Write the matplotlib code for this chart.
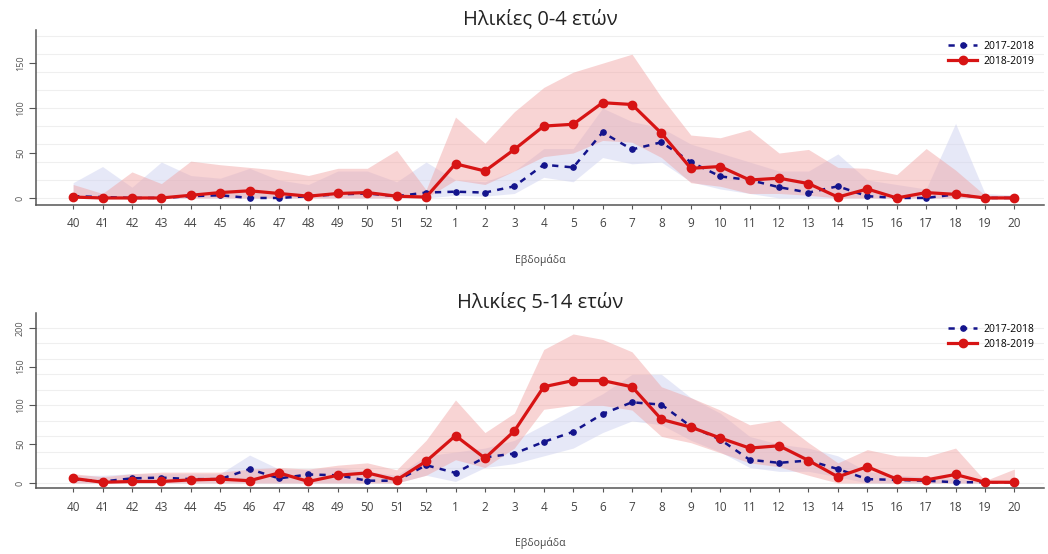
import matplotlib
matplotlib.use('Agg')
import matplotlib.pyplot as plt
import numpy as np

plt.rcParams['font.family'] = ['Open Sans', 'DejaVu Sans']

weeks = [str(w) for w in range(40, 53)] + [str(w) for w in range(1, 21)]

# Ηλικίες 0-4 ετών
top_1718 = [2, 1, 0, 0, 2, 3, 0, 0, 2, 4, 5, 2, 6,
            7, 6, 13, 37, 34, 73, 54, 62, 40, 24, 20, 12, 6, 13, 2, 0, 0, 4, 0, 0]
top_1718_hi = [17, 35, 12, 40, 25, 22, 33, 20, 15, 30, 30, 18, 40,
               20, 18, 30, 55, 55, 100, 85, 78, 60, 50, 40, 30, 30, 49, 20, 15, 10, 83, 5, 3]
top_1718_lo = [0, 0, 0, 0, 0, 0, 0, 0, 0, 0, 0, 0, 0,
               3, 2, 5, 23, 18, 45, 38, 40, 18, 10, 5, 0, 0, 0, 0, 0, 0, 0, 0, 0]
top_1819 = [1, 0, 0, 0, 3, 6, 8, 5, 2, 5, 6, 2, 1,
            38, 30, 54, 80, 82, 106, 104, 72, 33, 35, 20, 22, 16, 1, 10, 0, 6, 4, 0, 0]
top_1819_hi = [15, 5, 29, 16, 41, 37, 34, 31, 25, 33, 33, 53, 9,
               90, 61, 96, 123, 140, 150, 160, 112, 70, 67, 76, 50, 54, 34, 33, 26, 55, 31, 3, 3]
top_1819_lo = [0, 0, 0, 0, 0, 0, 0, 0, 0, 0, 0, 0, 0,
               20, 15, 30, 46, 50, 64, 62, 45, 17, 13, 5, 5, 3, 0, 0, 0, 0, 0, 0, 0]

# Ηλικίες 5-14 ετών
bot_1718 = [5, 2, 6, 7, 5, 5, 18, 6, 11, 10, 3, 3, 23,
            13, 33, 38, 53, 66, 89, 104, 101, 73, 56, 30, 26, 29, 18, 5, 4, 3, 1, 1, 1]
bot_1718_hi = [10, 10, 12, 12, 12, 12, 36, 18, 18, 20, 15, 10, 35,
               40, 45, 55, 75, 95, 115, 140, 140, 110, 90, 60, 50, 45, 35, 15, 10, 8, 6, 3, 3]
bot_1718_lo = [0, 0, 0, 0, 0, 0, 0, 0, 0, 0, 0, 0, 10,
               2, 20, 25, 35, 45, 65, 80, 75, 55, 40, 20, 15, 15, 8, 0, 0, 0, 0, 0, 0]
bot_1819 = [6, 1, 2, 2, 4, 5, 3, 13, 2, 10, 13, 4, 28,
            61, 32, 67, 124, 132, 132, 124, 82, 72, 58, 45, 48, 29, 8, 21, 5, 4, 11, 1, 1]
bot_1819_hi = [12, 8, 12, 14, 14, 14, 18, 20, 18, 23, 26, 17, 55,
               107, 65, 90, 172, 192, 185, 169, 124, 110, 94, 75, 81, 52, 26, 43, 35, 34, 45, 3, 18]
bot_1819_lo = [0, 0, 0, 0, 0, 0, 0, 0, 0, 0, 0, 0, 10,
               30, 20, 45, 95, 100, 100, 94, 60, 52, 39, 26, 21, 10, 0, 0, 0, 0, 0, 0, 0]

RED = '#d71414'
BLUE = '#14148c'


def panel(ax, title, s1, s1_lo, s1_hi, s2, s2_lo, s2_hi, ymin, ymax, yticks):
    x = np.arange(len(weeks))
    ax.fill_between(x, s1_lo, s1_hi, color='#cfd2f0', alpha=0.5, lw=0)
    ax.fill_between(x, s2_lo, s2_hi, color='#f1a0a0', alpha=0.45, lw=0)
    for g in range(0, int(ymax) + 1, 20):
        ax.axhline(g, color='#efefef', lw=0.8, zorder=0)
    ax.plot(x, s1, color=BLUE, ls=(0, (2.5, 2.5)), lw=1.8, marker='o', ms=3.8,
            label='2017-2018', zorder=3)
    ax.plot(x, s2, color=RED, lw=2.3, marker='o', ms=6, label='2018-2019', zorder=4)
    ax.set_xlim(-1.26, 33.0)
    ax.set_ylim(ymin, ymax)
    ax.set_xticks(x)
    ax.set_xticklabels(weeks, fontsize=8.5, color='#444444')
    ax.set_yticks(yticks)
    ax.set_yticklabels([str(t) for t in yticks], rotation=90, va='center',
                       fontsize=6.5, color='#555555')
    ax.tick_params(axis='y', length=5, color='#555555', pad=3)
    ax.tick_params(axis='x', length=3, color='#555555', pad=6)
    for s in ['top', 'right']:
        ax.spines[s].set_visible(False)
    for s in ['left', 'bottom']:
        ax.spines[s].set_color('#555555')
        ax.spines[s].set_linewidth(1.1)
    ax.set_title(title, fontsize=14.5, color='#222222', pad=4)
    ax.set_xlabel('Εβδομάδα', fontsize=7.5, color='#444444', labelpad=17)
    ax.legend(loc='upper right', bbox_to_anchor=(1.0, 0.99), frameon=False,
              fontsize=7.5, handlelength=2.8, labelspacing=0.35, handletextpad=0.6)


fig = plt.figure(figsize=(10.48, 5.54), dpi=100)
ax1 = fig.add_axes([0.0344, 0.63, 0.9616, 0.316])
ax2 = fig.add_axes([0.0344, 0.119, 0.9616, 0.316])

panel(ax1, 'Ηλικίες 0-4 ετών', top_1718, top_1718_lo, top_1718_hi,
      top_1819, top_1819_lo, top_1819_hi, -7.8, 187, [0, 50, 100, 150])
panel(ax2, 'Ηλικίες 5-14 ετών', bot_1718, bot_1718_lo, bot_1718_hi,
      bot_1819, bot_1819_lo, bot_1819_hi, -6.5, 219, [0, 50, 100, 150, 200])

fig.savefig('out.png', dpi=100)
